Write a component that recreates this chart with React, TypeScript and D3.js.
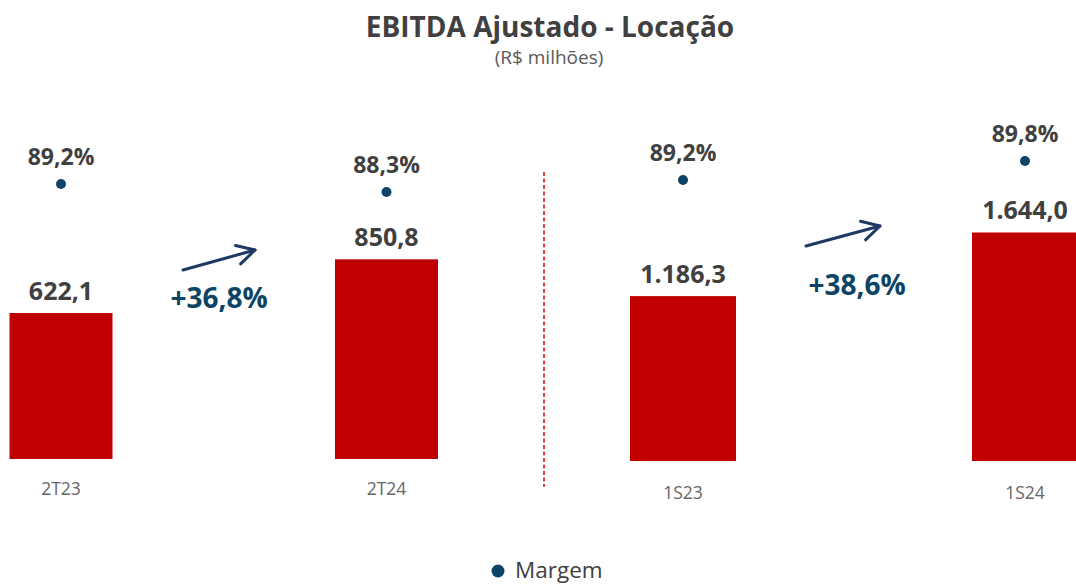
import React from "react";
import * as d3 from "d3";

const leftCategories = ["2T23", "2T24"];
const leftValues = [622.1, 850.8];
const leftMargins = [89.2, 88.3];
const leftValueLabels = ["622,1", "850,8"];
const leftMarginLabels = ["89,2%", "88,3%"];
const leftGrowth = "+36,8%";

const rightCategories = ["1S23", "1S24"];
const rightValues = [1186.3, 1644.0];
const rightMargins = [89.2, 89.8];
const rightValueLabels = ["1.186,3", "1.644,0"];
const rightMarginLabels = ["89,2%", "89,8%"];
const rightGrowth = "+38,6%";

const W = 1076;
const H = 585;
const FONT = "'Open Sans', 'Noto Sans', sans-serif";
const BAR = "#c00000";
const DOT = "#0d4466";
const NAVY = "#1f3864";
const TXT = "#404040";

type Panel = {
  cats: string[];
  values: number[];
  margins: number[];
  vLabels: string[];
  mLabels: string[];
  growth: string;
  x: d3.ScalePoint<string>;
  y: d3.ScaleLinear<number, number>;
  m: d3.ScaleLinear<number, number>;
  barW: number;
  catY: number;
  arrow: [number, number, number, number];
  growthPos: [number, number];
};

const panels: Panel[] = [
  {
    cats: leftCategories,
    values: leftValues,
    margins: leftMargins,
    vLabels: leftValueLabels,
    mLabels: leftMarginLabels,
    growth: leftGrowth,
    x: d3.scalePoint<string>().domain(leftCategories).range([61, 386.5]),
    y: d3.scaleLinear().domain([0, 1000]).range([459, 459 - 234.7]),
    m: d3.scaleLinear().domain([88.3, 89.2]).range([192, 184]),
    barW: 103,
    catY: 495,
    arrow: [183, 270, 255, 250],
    growthPos: [219, 308],
  },
  {
    cats: rightCategories,
    values: rightValues,
    margins: rightMargins,
    vLabels: rightValueLabels,
    mLabels: rightMarginLabels,
    growth: rightGrowth,
    x: d3.scalePoint<string>().domain(rightCategories).range([683, 1025]),
    y: d3.scaleLinear().domain([0, 1000]).range([461, 461 - 139]),
    m: d3.scaleLinear().domain([89.2, 89.8]).range([180, 161]),
    barW: 106,
    catY: 499,
    arrow: [806, 246, 880, 226],
    growthPos: [857, 295],
  },
];

function Arrow({ a }: { a: [number, number, number, number] }) {
  const [x1, y1, x2, y2] = a;
  const ang = Math.atan2(y2 - y1, x2 - x1);
  const hl = 20;
  const spread = 0.5;
  const p1 = [x2 - hl * Math.cos(ang - spread), y2 - hl * Math.sin(ang - spread)];
  const p2 = [x2 - hl * Math.cos(ang + spread), y2 - hl * Math.sin(ang + spread)];
  return (
    <g stroke={NAVY} strokeWidth={3} fill="none" strokeLinecap="round" strokeLinejoin="round">
      <line x1={x1} y1={y1} x2={x2} y2={y2} />
      <polyline points={`${p1[0]},${p1[1]} ${x2},${y2} ${p2[0]},${p2[1]}`} />
    </g>
  );
}

export default function App() {
  return (
    <svg
      width={W}
      height={H}
      style={{ position: "absolute", left: 0, top: 0, background: "#fff" }}
      fontFamily={FONT}
    >
      <rect x={0} y={0} width={W} height={H} fill="#fff" />
      <text x={550} y={37} textAnchor="middle" fontSize={28} fontWeight={700} fill={TXT}>
        EBITDA Ajustado - Locação
      </text>
      <text x={549} y={64} textAnchor="middle" fontSize={19} fill="#595959">
        (R$ milhões)
      </text>

      {panels.map((p, pi) => (
        <g key={pi}>
          {p.cats.map((c, i) => {
            const cx = p.x(c)!;
            const top = p.y(p.values[i]);
            const base = p.y(0);
            const my = p.m(p.margins[i]);
            return (
              <g key={c}>
                <rect x={cx - p.barW / 2} y={top} width={p.barW} height={base - top} fill={BAR} />
                <text x={cx} y={top - 13} textAnchor="middle" fontSize={25} fontWeight={700} fill={TXT}>
                  {p.vLabels[i]}
                </text>
                <circle cx={cx} cy={my} r={5} fill={DOT} />
                <text x={cx} y={my - 19} textAnchor="middle" fontSize={23} fontWeight={700} fill={TXT}>
                  {p.mLabels[i]}
                </text>
                <text x={cx} y={p.catY} textAnchor="middle" fontSize={17.5} fill="#666">
                  {c}
                </text>
              </g>
            );
          })}
          <Arrow a={p.arrow} />
          <text
            x={p.growthPos[0]}
            y={p.growthPos[1]}
            textAnchor="middle"
            fontSize={28}
            fontWeight={700}
            fill={DOT}
          >
            {p.growth}
          </text>
        </g>
      ))}

      <line x1={544} y1={172} x2={544} y2={487} stroke="#e00000" strokeWidth={1.5} strokeDasharray="4 2.5" />

      <circle cx={498} cy={571} r={6.5} fill={DOT} />
      <text x={515} y={578} fontSize={22.5} fill={TXT}>
        Margem
      </text>
    </svg>
  );
}
